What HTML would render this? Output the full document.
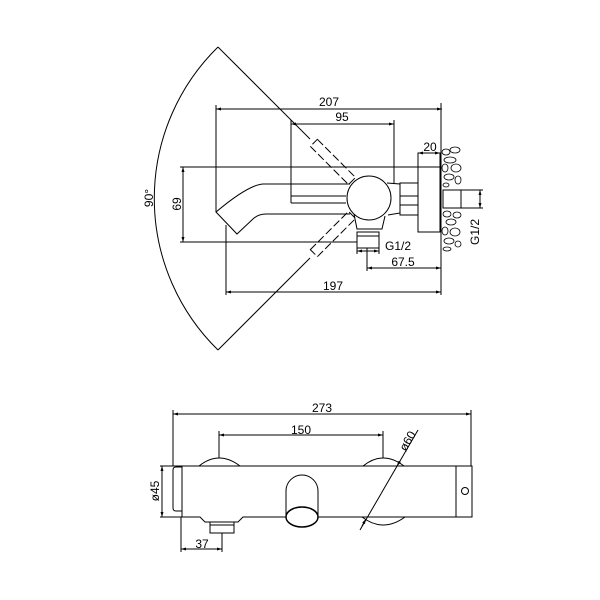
<!DOCTYPE html>
<html><head><meta charset="utf-8"><style>
html,body{margin:0;padding:0;background:#fff;}
svg{display:block;}
text{font-family:"Liberation Sans",sans-serif;font-size:12px;fill:#000;}
</style></head><body>
<svg width="600" height="600" viewBox="0 0 600 600" xmlns="http://www.w3.org/2000/svg">
<defs>
<marker id="a" viewBox="0 0 10 10" refX="10" refY="5" markerWidth="7" markerHeight="5" orient="auto-start-reverse"><path d="M0,2 L10,5 L0,8z" fill="#000"/></marker>
</defs>
<g fill="none" stroke="#000" stroke-width="1">
<path d="M218,47 A212,212 0 0 0 218,350"/>
<line x1="218" y1="47" x2="310" y2="139"/>
<line x1="218" y1="350" x2="310" y2="258"/>
<g transform="rotate(45 369 198)">
<rect x="291" y="193" width="54" height="10" stroke-dasharray="8,3" fill="#fff"/>
</g>
<g transform="rotate(-45 369 198)">
<rect x="291" y="193" width="54" height="10" stroke-dasharray="8,3" fill="#fff"/>
</g>
<line x1="216" y1="109" x2="442" y2="109" marker-start="url(#a)" marker-end="url(#a)"/>
<line x1="216" y1="105" x2="216" y2="212"/>
<line x1="441" y1="103" x2="441" y2="295"/>
<line x1="291" y1="124" x2="394" y2="124" marker-start="url(#a)" marker-end="url(#a)"/>
<line x1="291" y1="120" x2="291" y2="203"/>
<line x1="394" y1="120" x2="394" y2="183"/>
<line x1="291" y1="196" x2="346" y2="196"/>
<line x1="291" y1="203" x2="346" y2="203"/>
<line x1="183" y1="167" x2="183" y2="242" marker-start="url(#a)" marker-end="url(#a)"/>
<line x1="180" y1="167" x2="441" y2="167"/>
<line x1="180" y1="242" x2="357" y2="242"/>
<path d="M350,184 L263,184 Q248,185 216,212 L237,234 L254,218 Q259,214 266,214 L350,214"/>
<circle cx="369" cy="198" r="22" fill="#fff"/>
<path d="M354,214 L357,229 L382,229 L385,216"/>
<rect x="357" y="232" width="22" height="16"/>
<line x1="357" y1="236" x2="379" y2="236"/>
<path d="M387,183 L400,184 L400,213 L388,215"/>
<rect x="400" y="183" width="18" height="32"/>
<line x1="400" y1="196" x2="418" y2="196"/>
<line x1="400" y1="205" x2="418" y2="205"/>
<rect x="418" y="153" width="22" height="79"/>
<g stroke-width="0.8">
<ellipse cx="446" cy="152" rx="4" ry="3"/><ellipse cx="455" cy="150" rx="5" ry="3"/>
<ellipse cx="450" cy="160" rx="6" ry="3"/><ellipse cx="445" cy="168" rx="3" ry="4"/>
<ellipse cx="456" cy="168" rx="5" ry="4"/><ellipse cx="449" cy="177" rx="5" ry="3"/>
<ellipse cx="458" cy="180" rx="3" ry="4"/><ellipse cx="446" cy="185" rx="3" ry="2"/>
<ellipse cx="447" cy="214" rx="4" ry="3"/><ellipse cx="457" cy="215" rx="4" ry="3"/>
<ellipse cx="451" cy="222" rx="5" ry="3"/><ellipse cx="445" cy="231" rx="3" ry="4"/>
<ellipse cx="455" cy="232" rx="5" ry="4"/><ellipse cx="449" cy="241" rx="5" ry="3"/>
<ellipse cx="458" cy="244" rx="3" ry="3"/><ellipse cx="447" cy="249" rx="4" ry="2"/>
</g>
<rect x="443" y="190" width="18" height="18" fill="#fff"/>
<line x1="461" y1="190" x2="483" y2="190"/>
<line x1="461" y1="208" x2="483" y2="208"/>
<line x1="480" y1="190" x2="480" y2="208" marker-start="url(#a)" marker-end="url(#a)"/>
<line x1="418" y1="153" x2="440" y2="153" marker-start="url(#a)" marker-end="url(#a)"/>
<line x1="357" y1="248" x2="357" y2="254"/>
<line x1="379" y1="248" x2="379" y2="254"/>
<line x1="357" y1="251" x2="379" y2="251" marker-start="url(#a)" marker-end="url(#a)"/>
<line x1="367" y1="248" x2="367" y2="271"/>
<line x1="367" y1="268" x2="441" y2="268" marker-start="url(#a)" marker-end="url(#a)"/>
<line x1="226" y1="225" x2="226" y2="295"/>
<line x1="226" y1="292" x2="441" y2="292" marker-start="url(#a)" marker-end="url(#a)"/>

<line x1="173" y1="414" x2="471" y2="414" marker-start="url(#a)" marker-end="url(#a)"/>
<line x1="173" y1="410" x2="173" y2="466"/>
<line x1="471" y1="410" x2="471" y2="466"/>
<line x1="219" y1="435" x2="383" y2="435" marker-start="url(#a)" marker-end="url(#a)"/>
<line x1="219" y1="431" x2="219" y2="458"/>
<line x1="383" y1="431" x2="383" y2="458"/>
<path d="M199,466 Q219,450 240,466"/>
<path d="M363,466 Q383,450 404,466"/>
<path d="M362,517 Q383,533 405,517"/>
<path d="M160,466 L456,466 L456,517 L243,517 L238,522 L205,522 L200,517 L160,517"/>
<path d="M182,466 L182,517"/>
<path d="M182,467 L176,467 Q173,467 173,470 L173,508 Q173,511 176,511 L182,511"/>
<rect x="456" y="466" width="16" height="51"/>
<circle cx="465" cy="491" r="3.5"/>
<rect x="210" y="522" width="24" height="11" fill="#fff"/>
<line x1="210" y1="525" x2="234" y2="525"/>
<path d="M286,517 L286,491 A16,16 0 0 1 318,491 L318,517"/>
<ellipse cx="302" cy="517" rx="16" ry="10" fill="#fff" stroke-width="1.5"/>
<line x1="162" y1="466" x2="162" y2="517" marker-start="url(#a)" marker-end="url(#a)"/>
<line x1="181" y1="517" x2="181" y2="552"/>
<line x1="222" y1="533" x2="222" y2="552"/>
<line x1="181" y1="549" x2="222" y2="549" marker-start="url(#a)" marker-end="url(#a)"/>
<line x1="360" y1="530" x2="418" y2="430"/>
<line x1="400" y1="461" x2="397" y2="466" marker-end="url(#a)"/>
<line x1="362" y1="526" x2="366" y2="519" marker-end="url(#a)"/>
</g>
<text x="329" y="106" text-anchor="middle">207</text>
<text x="342" y="121" text-anchor="middle">95</text>
<text x="430" y="151" text-anchor="middle">20</text>
<text transform="translate(181,204) rotate(-90)" text-anchor="middle">69</text>
<text transform="translate(153,198) rotate(-90)" text-anchor="middle">90°</text>
<text transform="translate(479,232) rotate(-90)" text-anchor="middle">G1/2</text>
<text x="398" y="250" text-anchor="middle">G1/2</text>
<text x="403" y="266" text-anchor="middle">67.5</text>
<text x="333" y="290" text-anchor="middle">197</text>
<text x="322" y="412" text-anchor="middle">273</text>
<text x="301" y="434" text-anchor="middle">150</text>
<text transform="translate(159,491) rotate(-90)" text-anchor="middle">ø45</text>
<text x="202" y="548" text-anchor="middle">37</text>
<text transform="translate(411,443) rotate(-60)" text-anchor="middle">ø60</text>
</svg>
</body></html>
